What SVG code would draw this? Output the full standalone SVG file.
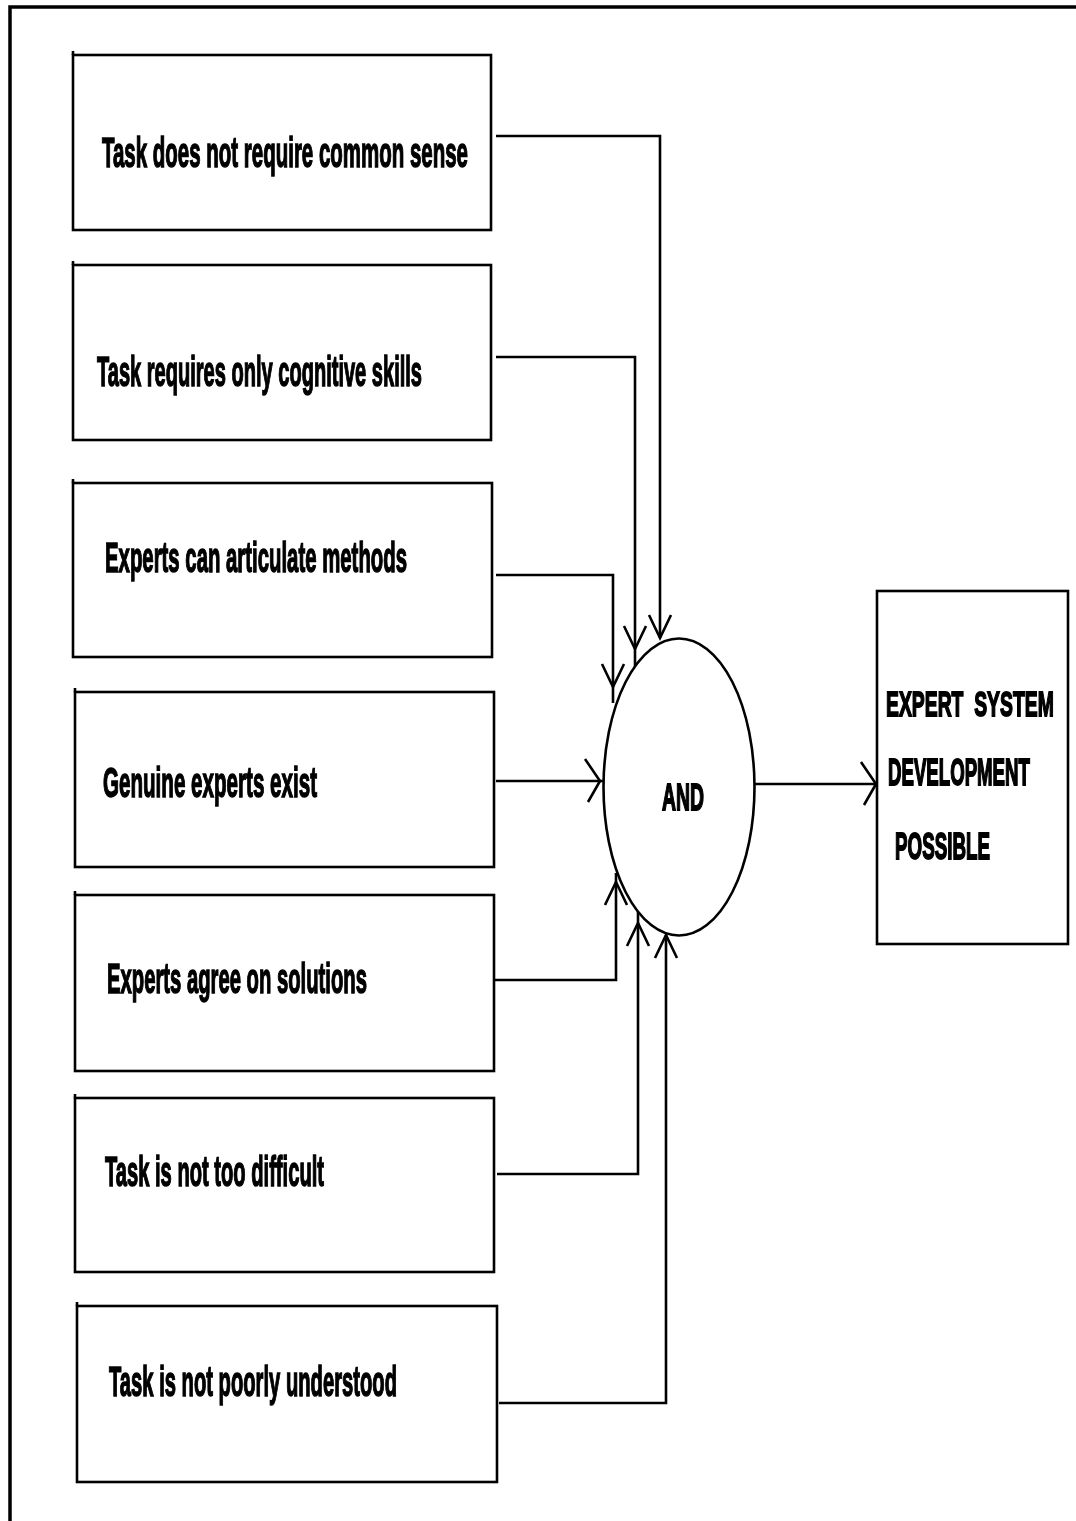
<svg xmlns="http://www.w3.org/2000/svg" width="1076" height="1521" viewBox="0 0 1076 1521">
<style>
.b{fill:#fff;stroke:#000;stroke-width:2.600}
.c{fill:none;stroke:#000;stroke-width:2.600}
.t{fill:none;stroke:#000;stroke-width:2.600}
text{font-family:"Liberation Sans",Arial,sans-serif;font-weight:bold;font-size:42px;fill:#000;stroke:#000;stroke-width:1.500}
.r{font-size:36px;stroke-width:1.800}
</style>
<defs>
<filter id="soft" filterUnits="userSpaceOnUse" x="0" y="0" width="1076" height="1521"><feGaussianBlur stdDeviation="0.600"/></filter>
<marker id="a" markerUnits="userSpaceOnUse" markerWidth="40" markerHeight="60" refX="30" refY="30" orient="auto" viewBox="0 0 40 60">
<path d="M7,19 L30,30 L7,41" fill="none" stroke="#000" stroke-width="2.600"/>
</marker>
<marker id="h" markerUnits="userSpaceOnUse" markerWidth="40" markerHeight="60" refX="30" refY="30" orient="auto" viewBox="0 0 40 60">
<path d="M15,8 L30,30 L18,51" fill="none" stroke="#000" stroke-width="2.600"/>
</marker>
</defs>
<rect width="1076" height="1521" fill="#fff"/>
<g filter="url(#soft)">
<path id="frame" d="M10,1521 V7 H1076" fill="none" stroke="#000" stroke-width="3.500"/>
<g id="connectors">
<path class="c" d="M496,136 H660 V638" marker-end="url(#a)"/>
<path class="c" d="M496,357 H635 V649" marker-end="url(#a)"/>
<path class="c" d="M635,649 V667"/>
<path class="c" d="M496,575 H613 V687" marker-end="url(#a)"/>
<path class="c" d="M613,687 V703"/>
<path class="c" d="M496,781 H600" marker-end="url(#h)"/>
<path class="c" d="M600,781 H604"/>
<path class="c" d="M495,980 H616 V882" marker-end="url(#a)"/>
<path class="c" d="M616,882 V873"/>
<path class="c" d="M497,1174 H638 V923" marker-end="url(#a)"/>
<path class="c" d="M638,923 V912"/>
<path class="c" d="M499,1403 H666 V935" marker-end="url(#a)"/>
<path class="c" d="M755,784 H876" marker-end="url(#h)"/>
</g>
<g id="n1"><rect class="b" x="73" y="55" width="418" height="175"/><path class="t" d="M73,55 V51"/><text x="102" y="167" textLength="366" lengthAdjust="spacingAndGlyphs">Task does not require common sense</text></g>
<g id="n2"><rect class="b" x="73" y="265" width="418" height="175"/><path class="t" d="M73,265 V261"/><text x="97" y="386" textLength="325" lengthAdjust="spacingAndGlyphs">Task requires only cognitive skills</text></g>
<g id="n3"><rect class="b" x="73" y="483" width="419" height="174"/><path class="t" d="M73,483 V479"/><text x="105" y="572" textLength="302" lengthAdjust="spacingAndGlyphs">Experts can articulate methods</text></g>
<g id="n4"><rect class="b" x="75" y="692" width="419" height="175"/><path class="t" d="M75,692 V688"/><text x="103" y="797" textLength="214" lengthAdjust="spacingAndGlyphs">Genuine experts exist</text></g>
<g id="n5"><rect class="b" x="75" y="895" width="419" height="176"/><path class="t" d="M75,895 V891"/><text x="107" y="993" textLength="260" lengthAdjust="spacingAndGlyphs">Experts agree on solutions</text></g>
<g id="n6"><rect class="b" x="75" y="1098" width="419" height="174"/><path class="t" d="M75,1098 V1094"/><text x="105" y="1186" textLength="219" lengthAdjust="spacingAndGlyphs">Task is not too difficult</text></g>
<g id="n7"><rect class="b" x="77" y="1306" width="420" height="176"/><path class="t" d="M77,1306 V1302"/><text x="109" y="1396" textLength="288" lengthAdjust="spacingAndGlyphs">Task is not poorly understood</text></g>
<g id="and"><ellipse class="b" cx="679" cy="787" rx="75.500" ry="148.500"/><text x="662" y="810" textLength="42" lengthAdjust="spacingAndGlyphs" style="font-size:37px;stroke-width:1.800">AND</text></g>
<g id="result"><rect class="b" x="877" y="591" width="191" height="353"/>
<text class="r" transform="translate(886,716) scale(.61,1)" x="0" y="0" textLength="275" lengthAdjust="spacingAndGlyphs" xml:space="preserve">EXPERT  SYSTEM</text>
<text class="r" transform="translate(888,785) scale(.584,1)" x="0" y="0" textLength="243" lengthAdjust="spacingAndGlyphs">DEVELOPMENT</text>
<text class="r" x="895" y="859" textLength="95" lengthAdjust="spacingAndGlyphs">POSSIBLE</text></g>
</g>
</svg>
